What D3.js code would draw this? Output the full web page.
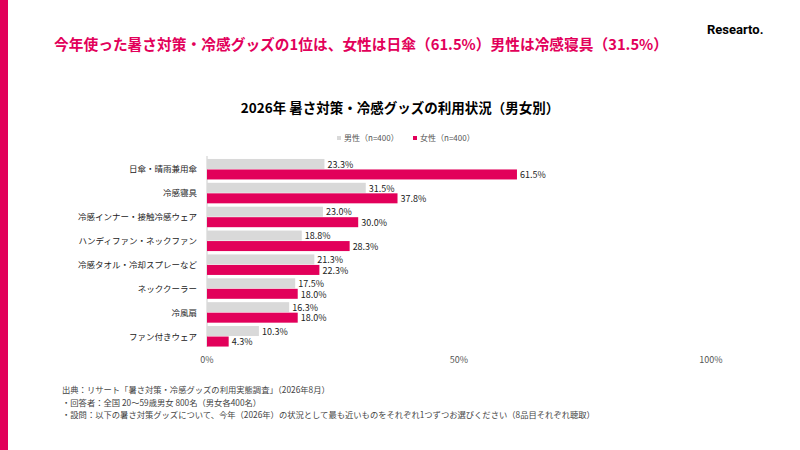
<!DOCTYPE html>
<html><head><meta charset="utf-8">
<script src="https://cdn.jsdelivr.net/npm/d3@7"></script>
<style>body{margin:0;background:#fff;}svg{font-family:"Noto Sans CJK JP","Noto Sans",sans-serif;}</style>
</head><body>
<svg width="800" height="450"></svg>
<script>
const categories = ['日傘・晴雨兼用傘','冷感寝具','冷感インナー・接触冷感ウェア','ハンディファン・ネックファン','冷感タオル・冷却スプレーなど','ネッククーラー','冷風扇','ファン付きウェア'];
const male = [23.3,31.5,23.0,18.8,21.3,17.5,16.3,10.3];
const female = [61.5,37.8,30.0,28.3,22.3,18.0,18.0,4.3];
const ticks = [0,50,100];
const pink = '#e2005a', grey = '#d9d9d9';

const svg = d3.select('svg');
svg.append('rect').attr('x',0).attr('y',0).attr('width',8).attr('height',450).attr('fill',pink);

svg.append('text').attr('x',54).attr('y',50).attr('fill',pink).attr('font-size',15).attr('font-weight',700)
  .attr('textLength',614).attr('lengthAdjust','spacingAndGlyphs')
  .text('今年使った暑さ対策・冷感グッズの1位は、女性は日傘（61.5%）男性は冷感寝具（31.5%）');
svg.append('text').attr('x',707).attr('y',34).attr('font-size',13).attr('font-weight',700).attr('font-family','Roboto,sans-serif')
  .text('Researto.');
svg.append('text').attr('x',400).attr('y',113).attr('text-anchor','middle').attr('font-size',13.5).attr('font-weight',700)
  .text('2026年 暑さ対策・冷感グッズの利用状況（男女別）');

// legend
const lg = svg.append('g').attr('font-size',8);
lg.append('rect').attr('x',337).attr('y',136).attr('width',4).attr('height',4).attr('fill',grey);
lg.append('text').attr('x',344).attr('y',141).attr('fill','#555').text('男性（n=400）');
lg.append('rect').attr('x',413).attr('y',136).attr('width',4).attr('height',4).attr('fill',pink);
lg.append('text').attr('x',420).attr('y',141).attr('fill','#555').text('女性（n=400）');

const x = d3.scaleLinear().domain([0,100]).range([207,711]);
const y = d3.scaleBand().domain(categories).range([158,348]).paddingInner(0.12).paddingOuter(0.04);
const sub = d3.scaleBand().domain(['m','f']).range([0,y.bandwidth()]);

svg.append('line').attr('x1',x(0)).attr('x2',x(0)).attr('y1',156).attr('y2',347).attr('stroke','#ccc');

const g = svg.append('g');
categories.forEach((c,i)=>{
  g.append('text').attr('x',197).attr('y',y(c)+y.bandwidth()/2+3).attr('text-anchor','end')
    .attr('font-size',8.5).attr('fill','#222').text(c);
  [['m',male[i],grey],['f',female[i],pink]].forEach(([k,v,col])=>{
    const yy = y(c)+sub(k);
    g.append('rect').attr('x',x(0)).attr('y',yy).attr('width',x(v)-x(0)).attr('height',sub.bandwidth()-0.5).attr('fill',col);
    g.append('text').attr('x',x(v)+3).attr('y',yy+sub.bandwidth()/2+3.5).attr('font-size',9).attr('fill','#222')
      .text(v.toFixed(1)+'%');
  });
});

const ax = svg.append('g').attr('font-size',9);
ticks.forEach(t=>ax.append('text').attr('x',x(t)).attr('y',363).attr('text-anchor','middle').attr('fill','#555').text(t+'%'));

const notes = ['出典：リサート「暑さ対策・冷感グッズの利用実態調査」（2026年8月）','・回答者：全国 20〜59歳男女 800名（男女各400名）','・設問：以下の暑さ対策グッズについて、今年（2026年）の状況として最も近いものをそれぞれ1つずつお選びください（8品目それぞれ聴取）'];
notes.forEach((n,i)=>svg.append('text').attr('x',62).attr('y',393+i*12.5).attr('font-size',8.3).attr('fill','#444').text(n));
</script>
</body></html>
